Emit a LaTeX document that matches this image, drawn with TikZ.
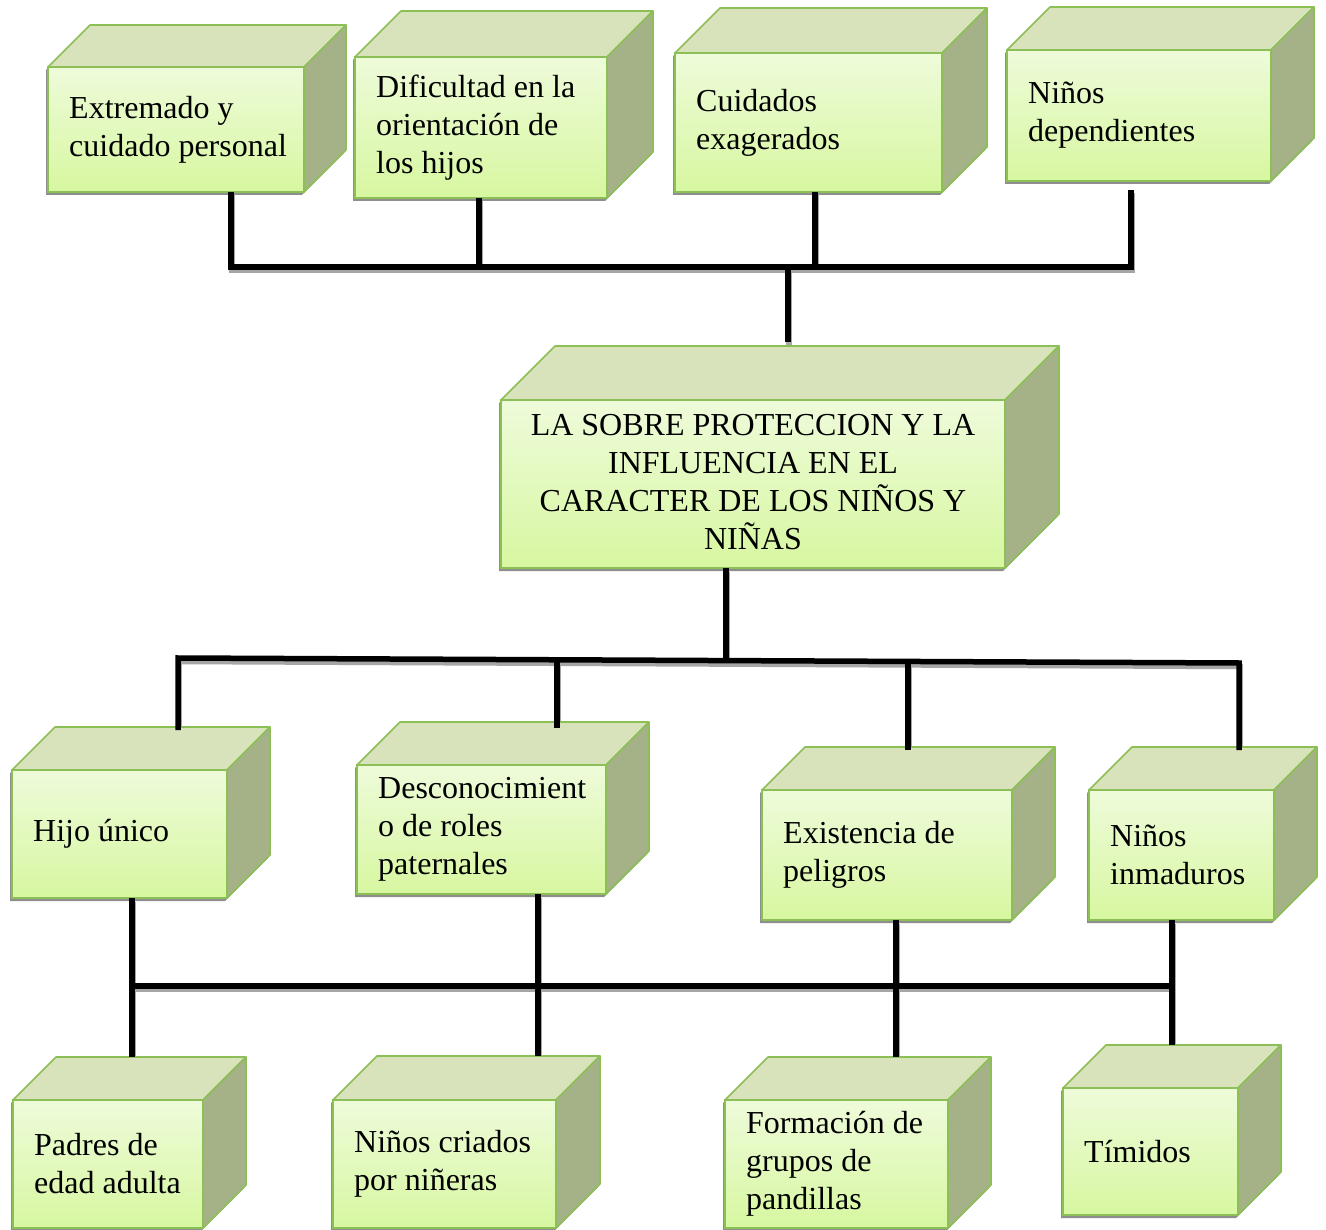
\documentclass[tikz,border=0pt]{standalone}
\usepackage{fontspec}
\setmainfont{Liberation Serif}
\usetikzlibrary{calc,backgrounds}
\definecolor{frontTop}{HTML}{EEFBDA}
\definecolor{frontBot}{HTML}{D7F7A0}
\definecolor{topFaceC}{HTML}{D8E2BB}
\definecolor{sideFaceC}{HTML}{A5B288}
\definecolor{edgeC}{HTML}{8DBF57}
\definecolor{shadeC}{HTML}{8E8E8E}
\tikzset{
  frontface/.style={rectangle, draw=edgeC, line width=1.6pt, top color=frontTop, bottom color=frontBot, inner sep=0pt, outer sep=0pt},
  topface/.style={draw=edgeC, line width=1.6pt, fill=topFaceC, line join=round},
  sideface/.style={draw=edgeC, line width=1.6pt, fill=sideFaceC, line join=round},
  shadowface/.style={fill=shadeC},
  txt/.style={inner sep=0pt, align=left, font=\fontsize{32}{38}\selectfont},
  conn/.style={line width=5.5pt, black, line join=miter},
  connshadow/.style={line width=5.5pt, draw=black!35, line join=miter, transform canvas={xshift=1pt,yshift=-3.5pt}}
}
\newcommand\cubebox[7]{%
  \pgfmathsetmacro\cbW{#4-#2}%
  \pgfmathsetmacro\cbH{#5-#3}%
  \node[frontface, minimum width=\cbW pt, minimum height=\cbH pt, anchor=north west] (#1) at (#2,#3) {};
  \coordinate (#1-top) at ($(#1.north)+(#6,-#6)$);
  \begin{pgfonlayer}{background}
    \fill[shadowface, transform canvas={xshift=-2pt,yshift=-3pt}] (#1.south west) -- (#1.north west) -- ($(#1.north west)+(#6,-#6)$) -- ($(#1.north east)+(#6,-#6)$) -- ($(#1.south east)+(#6,-#6)$) -- (#1.south east) -- cycle;
  \end{pgfonlayer}
  \path[topface] (#1.north west) -- ($(#1.north west)+(#6,-#6)$) -- ($(#1.north east)+(#6,-#6)$) -- (#1.north east) -- cycle;
  \path[sideface] (#1.north east) -- ($(#1.north east)+(#6,-#6)$) -- ($(#1.south east)+(#6,-#6)$) -- (#1.south east) -- cycle;
  \node[txt, anchor=west] (#1-t) at ($(#1.west)+(21,0)$) {#7};
}
\newcommand\connect[2][]{%
  \begin{pgfonlayer}{background}\path[connshadow,#1] #2;\end{pgfonlayer}%
  \draw[conn,#1] #2;%
}
\begin{document}
\begin{tikzpicture}[x=1pt, y=-1pt]
\useasboundingbox (0,0) rectangle (1326,1230);
\begin{pgfonlayer}{background}
  \fill[white] (0,0) rectangle (1326,1230);
\end{pgfonlayer}

% top row
\cubebox{b1}{48}{67}{304}{192}{42}{Extremado y\\cuidado personal}
\cubebox{b2}{355}{57}{607}{198}{46}{Dificultad en la\\orientación de\\los hijos}
\cubebox{b3}{675}{53}{942}{192}{45}{Cuidados\\exagerados}
\cubebox{b4}{1007}{50}{1271}{181}{43}{Niños\\dependientes}

% center
\cubebox{c}{501}{400}{1005}{568}{54}{}
\node[txt, align=center] (c-title) at ($(c.center)+(0,-2)$) {LA SOBRE PROTECCION Y LA\\INFLUENCIA EN EL\\CARACTER DE LOS NIÑOS Y\\NIÑAS};

% third row
\cubebox{h1}{12}{770}{227}{898}{43}{Hijo único}
\cubebox{h2}{357}{765}{606}{894}{43}{Desconocimient\\o de roles\\paternales}
\cubebox{h3}{762}{790}{1012}{920}{43}{Existencia de\\peligros}
\cubebox{h4}{1089}{790}{1274}{920}{43}{Niños\\inmaduros}

% bottom row
\cubebox{p1}{13}{1100}{203}{1228}{43}{Padres de\\edad adulta}
\cubebox{p2}{333}{1100}{556}{1228}{44}{Niños criados\\por niñeras}
\cubebox{p3}{725}{1100}{948}{1228}{43}{Formación de\\grupos de\\pandillas}
\cubebox{p4}{1063}{1088}{1238}{1215}{43}{Tímidos}

% junction coordinates
\coordinate (j1) at (231,267);
\coordinate (j2) at (479,267);
\coordinate (j3) at (815,267);
\coordinate (j4) at (1131,267);
\coordinate (j0) at (788,267);
\coordinate (m0) at (726,661);
\coordinate (m1) at (178,658);
\coordinate (m2) at (557,660);
\coordinate (m3) at (908,661);
\coordinate (m4) at (1239,663);
\coordinate (k1) at (132,986);
\coordinate (k2) at (538,986);
\coordinate (k3) at (896,986);
\coordinate (k4) at (1172,986);

% top connectors
\connect[shorten >=9pt]{(j1 |- b1.south) -- (j1) -- (j4) -- (j4 |- b4.south)}
\connect{(j2 |- b2.south) -- (j2)}
\connect{(j3 |- b3.south) -- (j3)}
\connect[shorten >=4pt]{(j0) -- (j0 |- c-top)}

% middle connectors
\connect{(m0 |- c.south) -- (m0)}
\connect[shorten >=-3pt, shorten <=-3pt]{(m1 |- h1-top) -- (m1) -- (m4) -- (m4 |- h4-top)}
\connect[shorten >=-6pt]{(m2) -- (m2 |- h2-top)}
\connect[shorten >=-3pt]{(m3) -- (m3 |- h3-top)}

% bottom connectors
\connect{(k1) -- (k4)}
\connect{(k1 |- h1.south) -- (k1 |- p1-top)}
\connect{(k2 |- h2.south) -- (k2 |- p2-top)}
\connect{(k3 |- h3.south) -- (k3 |- p3-top)}
\connect{(k4 |- h4.south) -- (k4 |- p4-top)}
\end{tikzpicture}
\end{document}
